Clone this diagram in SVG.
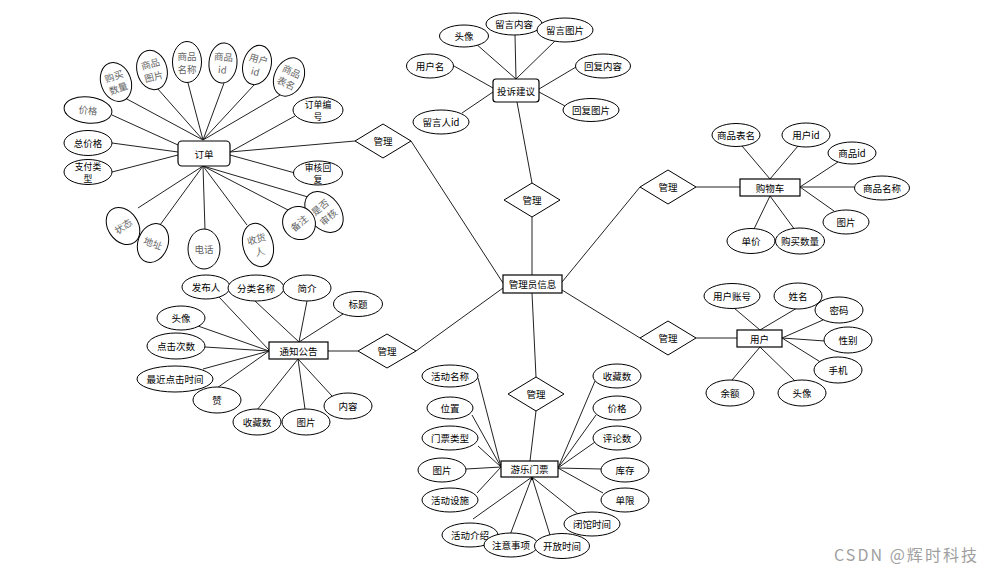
<svg xmlns="http://www.w3.org/2000/svg" width="984" height="571" viewBox="0 0 984 571">
<style>
.e{fill:#fff;stroke:#000;stroke-width:1}
.b{fill:#fff;stroke:#000;stroke-width:1.2}
.d{fill:#fff;stroke:#000;stroke-width:1}
.c line{stroke:#222;stroke-width:1}
text{font-family:"Noto Sans CJK SC","Noto Sans",sans-serif;font-size:9.5px;text-anchor:middle;dominant-baseline:central;fill:#000}
.s{font-size:8.8px}
.g{fill:#666;font-size:9.5px}
.w{fill:#a0a0a0;font-size:16px;text-anchor:start}
</style>
<rect width="984" height="571" fill="#fff"/>
<g id="connectors" class="c">
<line x1="203" y1="140" x2="125" y2="98"/><line x1="203" y1="140" x2="157" y2="88"/><line x1="203" y1="140" x2="188" y2="83"/>
<line x1="203" y1="140" x2="224" y2="83"/><line x1="203" y1="140" x2="254" y2="85"/><line x1="203" y1="140" x2="280" y2="95"/>
<line x1="178" y1="145" x2="112" y2="115"/><line x1="178" y1="152" x2="112" y2="143"/><line x1="178" y1="155" x2="112" y2="172"/>
<line x1="230" y1="152" x2="295" y2="116"/><line x1="230" y1="155" x2="295" y2="173"/><line x1="230" y1="152" x2="355" y2="141"/>
<line x1="203" y1="166" x2="138" y2="208"/><line x1="203" y1="166" x2="160" y2="225"/><line x1="203" y1="166" x2="205" y2="230"/>
<line x1="203" y1="166" x2="247" y2="225"/><line x1="203" y1="166" x2="288" y2="210"/><line x1="203" y1="166" x2="308" y2="197"/>
<line x1="411" y1="141" x2="503" y2="283"/>
<line x1="516" y1="79" x2="475" y2="43"/><line x1="516" y1="79" x2="515" y2="35"/><line x1="516" y1="79" x2="557" y2="39"/>
<line x1="493" y1="88" x2="454" y2="66"/><line x1="493" y1="92" x2="462" y2="113"/><line x1="539" y1="89" x2="576" y2="67"/><line x1="539" y1="92" x2="565" y2="106"/>
<line x1="517" y1="102" x2="532" y2="183"/><line x1="532" y1="217" x2="532" y2="275"/>
<line x1="562" y1="282" x2="640" y2="187"/><line x1="696" y1="187" x2="740" y2="187"/>
<line x1="770" y1="179" x2="742" y2="146"/><line x1="770" y1="179" x2="798" y2="146"/><line x1="800" y1="187" x2="838" y2="162"/>
<line x1="800" y1="187" x2="854" y2="187"/><line x1="800" y1="187" x2="834" y2="211"/><line x1="770" y1="196" x2="754" y2="229"/><line x1="770" y1="196" x2="795" y2="230"/>
<line x1="562" y1="290" x2="640" y2="338"/><line x1="696" y1="338" x2="737" y2="338"/>
<line x1="760" y1="330" x2="734" y2="308"/><line x1="760" y1="330" x2="797" y2="308"/><line x1="782" y1="338" x2="823" y2="320"/>
<line x1="782" y1="338" x2="825" y2="341"/><line x1="782" y1="338" x2="822" y2="363"/><line x1="760" y1="347" x2="732" y2="380"/><line x1="760" y1="347" x2="795" y2="381"/>
<line x1="416" y1="351" x2="503" y2="288"/><line x1="328" y1="351" x2="358" y2="351"/>
<line x1="269" y1="350" x2="219" y2="297"/><line x1="269" y1="351" x2="198" y2="326"/><line x1="269" y1="351" x2="205" y2="347"/>
<line x1="269" y1="351" x2="203" y2="369"/><line x1="269" y1="351" x2="217" y2="388"/>
<line x1="299" y1="342" x2="255" y2="301"/><line x1="299" y1="342" x2="307" y2="301"/><line x1="299" y1="342" x2="343" y2="314"/>
<line x1="298" y1="359" x2="257" y2="410"/><line x1="298" y1="359" x2="305" y2="409"/><line x1="298" y1="359" x2="332" y2="396"/>
<line x1="532" y1="293" x2="536" y2="377"/><line x1="536" y1="411" x2="530" y2="461"/>
<line x1="501" y1="467" x2="478" y2="378"/><line x1="501" y1="467" x2="472" y2="415"/><line x1="501" y1="467" x2="478" y2="446"/>
<line x1="501" y1="467" x2="466" y2="469"/><line x1="501" y1="467" x2="477" y2="493"/>
<line x1="558" y1="468" x2="595" y2="381"/><line x1="558" y1="468" x2="596" y2="415"/><line x1="558" y1="468" x2="595" y2="442"/>
<line x1="558" y1="468" x2="601" y2="469"/><line x1="558" y1="468" x2="603" y2="493"/>
<line x1="532" y1="477" x2="473" y2="519"/><line x1="532" y1="477" x2="510" y2="535"/><line x1="532" y1="477" x2="550" y2="535"/><line x1="532" y1="477" x2="578" y2="514"/>
</g>

<!-- Order cluster -->
<g id="order"><rect class="b" x="178" y="141" width="52" height="25" rx="4"/><text x="204" y="153.5">订单</text></g>
<g id="o-buyqty" transform="translate(116,82) rotate(-20)"><ellipse class="e" rx="15" ry="20"/><text class="g" y="-6.5">购买</text><text class="g" y="6.5">数量</text></g>
<g id="o-img" transform="translate(152,70) rotate(-15)"><ellipse class="e" rx="15" ry="20"/><text class="g" y="-6.5">商品</text><text class="g" y="6.5">图片</text></g>
<g id="o-name" transform="translate(187,62)"><ellipse class="e" rx="14.5" ry="20.5"/><text class="g" y="-6.5">商品</text><text class="g" y="6.5">名称</text></g>
<g id="o-gid" transform="translate(223,63) rotate(5)"><ellipse class="e" rx="14" ry="20"/><text class="g" y="-6.5">商品</text><text class="g" y="6.5">id</text></g>
<g id="o-uid" transform="translate(257,65) rotate(15)"><ellipse class="e" rx="14" ry="20"/><text class="g" y="-6.5">用户</text><text class="g" y="6.5">id</text></g>
<g id="o-table" transform="translate(289,77) rotate(25)"><ellipse class="e" rx="14.5" ry="20"/><text class="g" y="-6.5">商品</text><text class="g" y="6.5">表名</text></g>
<g id="o-no"><ellipse class="e" cx="318" cy="110" rx="25" ry="13"/><text class="s" x="318" y="104">订单编</text><text class="s" x="318" y="116">号</text></g>
<g id="o-price" transform="translate(88,110) rotate(6)"><ellipse class="e" rx="24" ry="13"/><text class="g">价格</text></g>
<g id="o-total"><ellipse class="e" cx="88" cy="143" rx="24" ry="12.5"/><text x="88" y="143">总价格</text></g>
<g id="o-pay"><ellipse class="e" cx="88" cy="172" rx="24" ry="12.5"/><text class="s" x="88" y="166">支付类</text><text class="s" x="88" y="178">型</text></g>
<g id="o-reply"><ellipse class="e" cx="318" cy="173" rx="24.5" ry="12"/><text class="s" x="318" y="167">审核回</text><text class="s" x="318" y="179">复</text></g>
<g id="o-audit" transform="translate(324,212) rotate(-40)"><ellipse class="e" rx="16" ry="23"/><text class="g" y="-6.5">是否</text><text class="g" y="6.5">审核</text></g>
<g id="o-remark" transform="translate(299,223) rotate(-40)"><ellipse class="e" rx="16" ry="17"/><text class="g">备注</text></g>
<g id="o-receiver" transform="translate(258,245) rotate(-15)"><ellipse class="e" rx="15" ry="22"/><text class="g" y="-6.5">收货</text><text class="g" y="6.5">人</text></g>
<g id="o-phone" transform="translate(204,249)"><ellipse class="e" rx="16" ry="20"/><text class="g">电话</text></g>
<g id="o-addr" transform="translate(153,243) rotate(20)"><ellipse class="e" rx="15" ry="20"/><text class="g">地址</text></g>
<g id="o-state" transform="translate(123,226) rotate(-35)"><ellipse class="e" rx="15" ry="20"/><text class="g">状态</text></g>
<g id="dm-order"><polygon class="d" points="355,141 383,124 411,141 383,158"/><text x="383" y="141">管理</text></g>

<!-- Admin -->
<g id="admin"><rect class="b" x="503" y="275" width="59" height="18"/><text x="532.5" y="284">管理员信息</text></g>

<!-- Complaint cluster -->
<g id="complaint"><rect class="b" x="493" y="79" width="46" height="23" rx="3"/><text x="516" y="90.5">投诉建议</text></g>
<g id="c-avatar"><ellipse class="e" cx="464" cy="36" rx="24.5" ry="11"/><text x="464" y="36">头像</text></g>
<g id="c-content"><ellipse class="e" cx="514" cy="24" rx="28" ry="11"/><text x="514" y="24">留言内容</text></g>
<g id="c-img"><ellipse class="e" cx="565" cy="30" rx="28" ry="12"/><text x="565" y="30">留言图片</text></g>
<g id="c-user"><ellipse class="e" cx="430" cy="66" rx="23.5" ry="12"/><text x="430" y="66">用户名</text></g>
<g id="c-rcontent"><ellipse class="e" cx="603" cy="66" rx="27.5" ry="12"/><text x="603" y="66">回复内容</text></g>
<g id="c-rimg"><ellipse class="e" cx="591" cy="110" rx="28" ry="11.5"/><text x="591" y="110">回复图片</text></g>
<g id="c-uid"><ellipse class="e" cx="441" cy="122" rx="28" ry="12"/><text x="441" y="122">留言人id</text></g>
<g id="dm-complaint"><polygon class="d" points="504,200 532,183 560,200 532,217"/><text x="532" y="200">管理</text></g>

<!-- Cart cluster -->
<g id="cart"><rect class="b" x="740" y="179" width="60" height="17"/><text x="770" y="187.5">购物车</text></g>
<g id="k-table"><ellipse class="e" cx="736" cy="135" rx="24" ry="11.5"/><text x="736" y="135">商品表名</text></g>
<g id="k-uid"><ellipse class="e" cx="806" cy="135" rx="24" ry="12"/><text x="806" y="135">用户id</text></g>
<g id="k-gid"><ellipse class="e" cx="852" cy="153" rx="24" ry="11"/><text x="852" y="153">商品id</text></g>
<g id="k-name"><ellipse class="e" cx="882" cy="188" rx="27.5" ry="12"/><text x="882" y="188">商品名称</text></g>
<g id="k-img"><ellipse class="e" cx="846" cy="222" rx="23" ry="12"/><text x="846" y="222">图片</text></g>
<g id="k-price"><ellipse class="e" cx="751" cy="241" rx="24" ry="12.5"/><text x="751" y="241">单价</text></g>
<g id="k-qty"><ellipse class="e" cx="800" cy="241" rx="24.5" ry="13"/><text x="800" y="241">购买数量</text></g>
<g id="dm-cart"><polygon class="d" points="640,187 668,170 696,187 668,204"/><text x="668" y="187">管理</text></g>

<!-- User cluster -->
<g id="user"><rect class="b" x="737" y="330" width="45" height="17"/><text x="759.5" y="338.5">用户</text></g>
<g id="u-acc"><ellipse class="e" cx="732" cy="296" rx="28" ry="12.5"/><text x="732" y="296">用户账号</text></g>
<g id="u-name"><ellipse class="e" cx="798" cy="296" rx="24" ry="13"/><text x="798" y="296">姓名</text></g>
<g id="u-pwd"><ellipse class="e" cx="839" cy="310" rx="24" ry="13"/><text x="839" y="310">密码</text></g>
<g id="u-sex"><ellipse class="e" cx="848" cy="340" rx="24" ry="13"/><text x="848" y="340">性别</text></g>
<g id="u-phone"><ellipse class="e" cx="838" cy="370" rx="24" ry="13"/><text x="838" y="370">手机</text></g>
<g id="u-avatar"><ellipse class="e" cx="802" cy="393" rx="24" ry="13"/><text x="802" y="393">头像</text></g>
<g id="u-balance"><ellipse class="e" cx="730" cy="393" rx="24" ry="13"/><text x="730" y="393">余额</text></g>
<g id="dm-user"><polygon class="d" points="640,338 668,321 696,338 668,355"/><text x="668" y="338">管理</text></g>

<!-- Notice cluster -->
<g id="notice"><rect class="b" x="269" y="342" width="59" height="17"/><text x="298.5" y="350.5">通知公告</text></g>
<g id="n-pub"><ellipse class="e" cx="206" cy="287" rx="24" ry="12"/><text x="206" y="287">发布人</text></g>
<g id="n-cat"><ellipse class="e" cx="256" cy="288" rx="28" ry="13"/><text x="256" y="288">分类名称</text></g>
<g id="n-intro"><ellipse class="e" cx="307" cy="288" rx="24" ry="13"/><text x="307" y="288">简介</text></g>
<g id="n-title"><ellipse class="e" cx="358" cy="304" rx="24.5" ry="12.5"/><text x="358" y="304">标题</text></g>
<g id="n-avatar"><ellipse class="e" cx="181" cy="318" rx="24" ry="12"/><text x="181" y="318">头像</text></g>
<g id="n-clicks"><ellipse class="e" cx="176" cy="346" rx="29" ry="13"/><text x="176" y="346">点击次数</text></g>
<g id="n-last"><ellipse class="e" cx="175" cy="379" rx="38" ry="13"/><text x="175" y="379">最近点击时间</text></g>
<g id="n-like"><ellipse class="e" cx="217" cy="400" rx="24" ry="13"/><text x="217" y="400">赞</text></g>
<g id="n-fav"><ellipse class="e" cx="257" cy="422" rx="24" ry="13"/><text x="257" y="422">收藏数</text></g>
<g id="n-img"><ellipse class="e" cx="306" cy="422" rx="24" ry="13"/><text x="306" y="422">图片</text></g>
<g id="n-content"><ellipse class="e" cx="348" cy="406" rx="24" ry="13"/><text x="348" y="406">内容</text></g>
<g id="dm-notice"><polygon class="d" points="358,351 387,334 416,351 387,368"/><text x="387" y="351">管理</text></g>

<!-- Ticket cluster -->
<g id="ticket"><rect class="b" x="501" y="461" width="57" height="16"/><text x="529.5" y="469">游乐门票</text></g>
<circle cx="532" cy="479" r="1.3" fill="#000"/>
<g id="t-actname"><ellipse class="e" cx="450" cy="376" rx="28" ry="11"/><text x="450" y="376">活动名称</text></g>
<g id="t-pos"><ellipse class="e" cx="450" cy="408" rx="23" ry="11"/><text x="450" y="408">位置</text></g>
<g id="t-type"><ellipse class="e" cx="450" cy="438" rx="28" ry="12"/><text x="450" y="438">门票类型</text></g>
<g id="t-img"><ellipse class="e" cx="442" cy="470" rx="24" ry="12"/><text x="442" y="470">图片</text></g>
<g id="t-fac"><ellipse class="e" cx="450" cy="500" rx="28" ry="12"/><text x="450" y="500">活动设施</text></g>
<g id="t-intro"><ellipse class="e" cx="470" cy="535" rx="28" ry="12"/><text x="470" y="535">活动介绍</text></g>
<g id="t-note"><ellipse class="e" cx="511" cy="545" rx="27" ry="12"/><text x="511" y="545">注意事项</text></g>
<g id="t-open"><ellipse class="e" cx="562" cy="546" rx="27.5" ry="12.5"/><text x="562" y="546">开放时间</text></g>
<g id="t-close"><ellipse class="e" cx="592" cy="524" rx="28" ry="12"/><text x="592" y="524">闭馆时间</text></g>
<g id="t-fav"><ellipse class="e" cx="617" cy="376" rx="24" ry="12"/><text x="617" y="376">收藏数</text></g>
<g id="t-price"><ellipse class="e" cx="617" cy="408" rx="24" ry="12"/><text x="617" y="408">价格</text></g>
<g id="t-comm"><ellipse class="e" cx="617" cy="438" rx="24" ry="12"/><text x="617" y="438">评论数</text></g>
<g id="t-stock"><ellipse class="e" cx="625" cy="470" rx="24" ry="12"/><text x="625" y="470">库存</text></g>
<g id="t-limit"><ellipse class="e" cx="625" cy="500" rx="24" ry="12"/><text x="625" y="500">单限</text></g>
<g id="dm-ticket"><polygon class="d" points="508,394 536,377 564,394 536,411"/><text x="536" y="394">管理</text></g>

<text class="w" x="834" y="554" textLength="143">CSDN @辉时科技</text>
</svg>
